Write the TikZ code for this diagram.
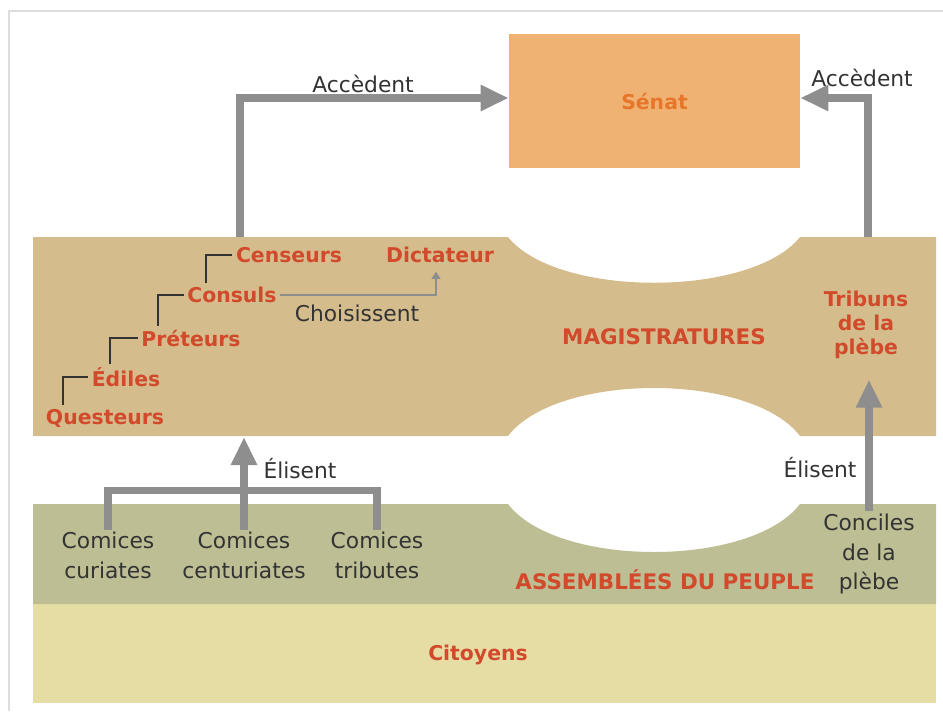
\documentclass[tikz,border=0pt]{standalone}
\usepackage{fontspec}
\setmainfont{DejaVu Sans}
\usetikzlibrary{arrows.meta}

\definecolor{magcol}{HTML}{D5BC8C}
\definecolor{asscol}{HTML}{BDBE94}
\definecolor{citcol}{HTML}{E6DDA5}
\definecolor{senatcol}{HTML}{F0B272}
\definecolor{senattxt}{HTML}{E8762A}
\definecolor{rouge}{HTML}{D24A2C}
\definecolor{fonce}{HTML}{333333}
\definecolor{gris}{HTML}{8E8E8E}
\definecolor{cadre}{HTML}{DDDDDD}

\begin{document}
\begin{tikzpicture}[x=0.02cm, y=-0.02cm,
	titre/.style={text=rouge, font=\bfseries\fontsize{11.6}{13.6}\selectfont, inner sep=2pt, align=center},
	bande/.style={titre, font=\bfseries\fontsize{12.2}{14}\selectfont},
	texte/.style={text=fonce, font=\fontsize{12.4}{17}\selectfont, inner sep=1pt, align=center},
	voie/.style={draw=gris, line width=4pt},
	acces/.style={voie, -{Triangle[width=14pt,length=16pt]}},
	marche/.style={draw=fonce, line width=1.2pt},
	choix/.style={draw=gris, line width=1pt, -{Triangle[width=5pt,length=4pt]}}]

	\useasboundingbox (0,0) rectangle (943,711);
	%% cadre
	\draw[cadre, line width=1.2pt] (9,711) -- (9,11) -- (943,11);

	%% bandes
	\fill[citcol] (33,604) rectangle (936,703);
	\fill[asscol] (33,504) -- (508,504) .. controls (557,568) and (751,568) .. (800,504) -- (936,504) -- (936,604) -- (33,604) -- cycle;
	\fill[magcol] (33,237) -- (508,237) .. controls (557,298) and (751,298) .. (800,237) -- (936,237) -- (936,436) -- (800,436) .. controls (751,372) and (557,372) .. (508,436) -- (33,436) -- cycle;

	%% senat
	\node[fill=senatcol, minimum width=5.82cm, minimum height=2.68cm, text=senattxt, font=\bfseries\fontsize{11.6}{13.6}\selectfont] (senat) at (654.5,101) {Sénat};

	%% titres des bandes
	\node[bande] (magistratures) at (664,337) {MAGISTRATURES};
	\node[bande] (assemblees) at (665,580) {ASSEMBLÉES DU PEUPLE};
	\node[titre] (citoyens) at (478,655) {Citoyens};

	%% magistrats
	\node[titre] (questeurs) at (105,418) {Questeurs};
	\node[titre] (ediles) at (126,377) {Édiles};
	\node[titre] (preteurs) at (191,338) {Préteurs};
	\node[titre] (consuls) at (232,295) {Consuls};
	\node[titre] (censeurs) at (289,255) {Censeurs};
	\node[titre] (dictateur) at (440,255) {Dictateur};
	\node[titre] (tribuns) at (866,325) {Tribuns\\de la\\plèbe};

	%% escalier des magistratures
	\draw[marche] ([xshift=-0.84cm]questeurs.north) |- (ediles.west);
	\draw[marche] ([xshift=-0.32cm]ediles.north) |- (preteurs.west);
	\draw[marche] ([xshift=-0.66cm]preteurs.north) |- (consuls.west);
	\draw[marche] ([xshift=-0.52cm]consuls.north) |- (censeurs.west);

	\draw[choix, shorten >=0.1cm] (consuls.east) -| ([xshift=-0.08cm]dictateur.south);
	\node[texte] (choisissent) at (357,313) {Choisissent};

	%% acces au senat
	\coordinate (departG) at (240,237);
	\coordinate (departD) at (868,237);
	\draw[acces] (departG) |- ([yshift=0.06cm]senat.west);
	\draw[acces] (departD) |- ([yshift=0.06cm]senat.east);
	\node[texte] (accedentG) at (363,84) {Accèdent};
	\node[texte] (accedentD) at (862,78) {Accèdent};

	%% assemblees
	\node[texte] (curiates) at (108,555) {Comices\\curiates};
	\node[texte] (centuriates) at (244,555) {Comices\\centuriates};
	\node[texte] (tributes) at (377,555) {Comices\\tributes};
	\node[texte] (conciles) at (869,554) {Conciles\\de la\\plèbe};

	\coordinate (magbas) at (244,437);
	\draw[voie] (curiates.north) -- ++(0,-39) -| (tributes.north);
	\draw[acces] (centuriates.north) -- (centuriates.north |- magbas);
	\node[texte] (elisentG) at (300,469) {Élisent};
	\draw[acces, shorten >=0.34cm] (conciles.north) -- (conciles.north |- tribuns.south);
	\node[texte] (elisentD) at (820,468) {Élisent};
\end{tikzpicture}
\end{document}
